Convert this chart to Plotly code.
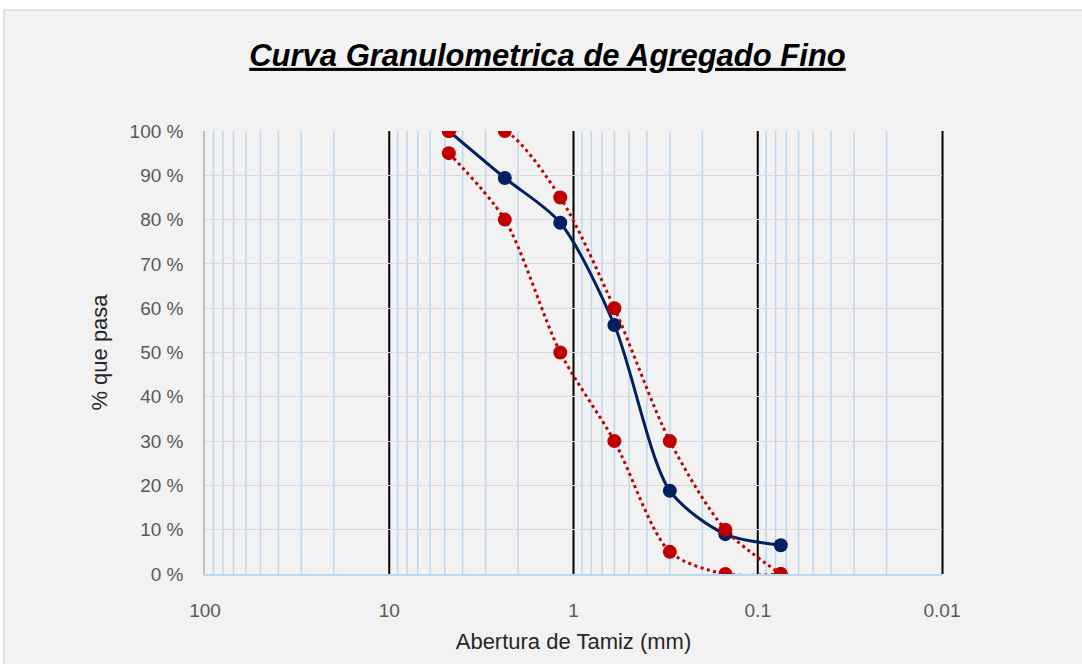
import plotly.graph_objects as go

# ---- data ----
sieve_mm = [4.75, 2.36, 1.18, 0.6, 0.3, 0.15, 0.075]
pct_passing = [100, 89.4, 79.3, 56.2, 18.8, 9.0, 6.5]
upper_limit = [100, 100, 85, 60, 30, 10, 0]
lower_limit = [95, 80, 50, 30, 5, 0, 0]
x_tick_vals = [100, 10, 1, 0.1, 0.01]
x_tick_text = ["100", "10", "1", "0.1", "0.01"]
y_tick_vals = [0, 10, 20, 30, 40, 50, 60, 70, 80, 90, 100]
y_tick_text = [f"{v} %" for v in y_tick_vals]

W, H = 1082, 664
ML, MR, MT, MB = 205, 140, 131, 90
FONT = "Liberation Sans, Arial"

BLUE = "#002060"
RED = "#c00000"

fig = go.Figure()
fig.add_trace(go.Scatter(
    x=sieve_mm, y=pct_passing, mode="lines+markers",
    line=dict(color=BLUE, width=3, shape="spline", smoothing=0.8),
    marker=dict(color=BLUE, size=14), showlegend=False))
fig.add_trace(go.Scatter(
    x=sieve_mm, y=upper_limit, mode="lines+markers",
    line=dict(color=RED, width=3, dash="3px,3.5px", shape="spline", smoothing=0.8),
    marker=dict(color=RED, size=14), showlegend=False))
fig.add_trace(go.Scatter(
    x=sieve_mm, y=lower_limit, mode="lines+markers",
    line=dict(color=RED, width=3, dash="3px,3.5px", shape="spline", smoothing=0.8),
    marker=dict(color=RED, size=14), showlegend=False))

shapes = []
pw, ph = W - ML - MR, H - MT - MB
# chart area background
shapes.append(dict(type="rect", xref="paper", yref="paper", layer="below",
                   x0=(4 - ML) / pw, x1=(W + 5 - ML) / pw,
                   y0=-(H + 5 - (MT + ph)) / ph, y1=(MT + ph - 10) / ph,
                   fillcolor="#f2f2f2", line=dict(color="#d9d9d9", width=1.5)))
# minor vertical gridlines
for d in range(-2, 2):
    for m in range(2, 10):
        v = m * 10.0 ** d
        shapes.append(dict(type="line", xref="x", yref="paper", layer="between",
                           x0=v, x1=v, y0=0, y1=1,
                           line=dict(color="#bdd7ee", width=1.5)))
# major vertical gridlines
for v in x_tick_vals[1:-1]:
    shapes.append(dict(type="line", xref="x", yref="paper", layer="between",
                       x0=v, x1=v, y0=0, y1=1,
                       line=dict(color="#000000", width=2)))
# gridline at right end of the axis (drawn unclipped)
shapes.append(dict(type="line", xref="paper", yref="paper", layer="between",
                   x0=1.0007, x1=1.0007, y0=0, y1=1,
                   line=dict(color="#000000", width=2)))

fig.update_layout(
    width=W, height=H,
    margin=dict(l=ML, r=MR, t=MT, b=MB),
    paper_bgcolor="#ffffff", plot_bgcolor="rgba(0,0,0,0)",
    shapes=shapes,
    title=dict(text="<b><i><u>Curva Granulometrica de Agregado Fino</u></i></b>",
               font=dict(family=FONT, size=31, color="#000000"),
               x=0.506, xanchor="center", xref="container",
               y=1 - 55 / H, yanchor="middle", yref="container"),
    xaxis=dict(type="log", range=[2, -2], tickvals=x_tick_vals, ticktext=x_tick_text,
               showgrid=False, zeroline=False, showline=True, linecolor="#bdd7ee", linewidth=1.5,
               ticks="", ticklabelstandoff=18,
               tickfont=dict(family=FONT, size=19, color="#595959"),
               title=dict(text="Abertura de Tamiz (mm)", standoff=14,
                          font=dict(family=FONT, size=22, color="#262626"))),
    yaxis=dict(range=[0, 100], tickvals=y_tick_vals, ticktext=y_tick_text,
               showgrid=True, gridcolor="#d9d9d9", gridwidth=1,
               zeroline=False, showline=True, linecolor="#bfbfbf", linewidth=1.5,
               ticks="", ticklabelstandoff=16,
               tickfont=dict(family=FONT, size=19, color="#595959"),
               title=dict(text="% que pasa", standoff=16,
                          font=dict(family=FONT, size=22, color="#262626"))),
)

fig.write_html("out.html")
